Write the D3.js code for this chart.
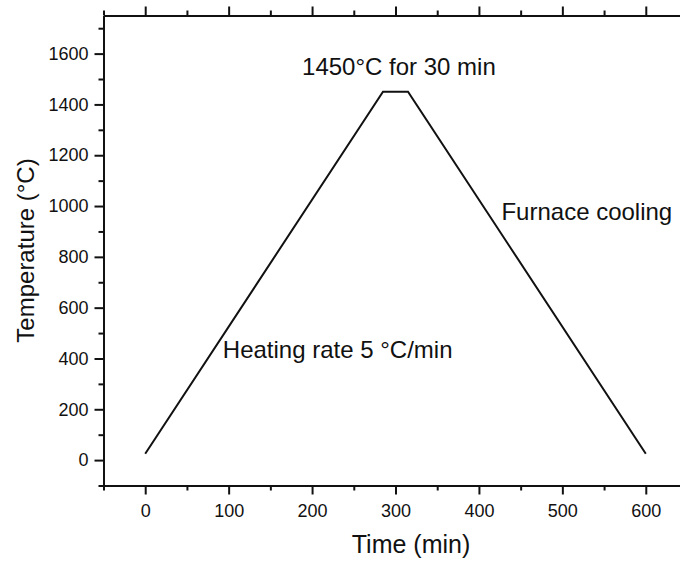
<!DOCTYPE html>
<html>
<head>
<meta charset="utf-8">
<script src="https://cdn.jsdelivr.net/npm/d3@7"></script>
<style>
  html, body { margin: 0; padding: 0; background: #ffffff; }
  svg { display: block; }
  text { font-family: "Liberation Sans", Arial, sans-serif; fill: #111; }
</style>
</head>
<body>
<script>
// Sintering schedule: time (min) vs. temperature (°C)
const timeMin = [0, 285, 315, 600];
const tempC = [25, 1450, 1450, 25];

const xMajorTicks = [0, 100, 200, 300, 400, 500, 600];
const xMinorTicks = [-50, 50, 150, 250, 350, 450, 550, 650];
const yMajorTicks = [0, 200, 400, 600, 800, 1000, 1200, 1400, 1600];
const yMinorTicks = [-100, 100, 300, 500, 700, 900, 1100, 1300, 1500, 1700];

const annotations = [
  { text: "1450°C for 30 min", t: 188, v: 1515 },
  { text: "Furnace cooling", t: 427, v: 945 },
  { text: "Heating rate 5 °C/min", t: 93, v: 400 }
];

const W = 680, H = 561;
const m = { left: 103.5, right: 687.5, top: 15.5, bottom: 485.5 };

const svg = d3.select("body").append("svg").attr("width", W).attr("height", H);

const x = d3.scaleLinear().domain([-50, 650]).range([m.left, m.right]);
const y = d3.scaleLinear().domain([-100, 1750]).range([m.bottom, m.top]);
const fmt = d3.format("d");

function styleAxis(g) {
  g.select(".domain").attr("stroke", "#111").attr("stroke-width", 2);
  g.selectAll(".tick line").attr("stroke", "#111").attr("stroke-width", 2);
}

// bottom axis: major with labels, minor without
const gxMinor = svg.append("g").attr("transform", `translate(0,${m.bottom})`)
  .call(d3.axisBottom(x).tickValues(xMinorTicks).tickSize(5).tickFormat("").tickSizeOuter(0));
styleAxis(gxMinor);
const gx = svg.append("g").attr("transform", `translate(0,${m.bottom})`)
  .call(d3.axisBottom(x).tickValues(xMajorTicks).tickFormat(fmt).tickSize(9).tickPadding(10).tickSizeOuter(0));
styleAxis(gx);
gx.selectAll(".tick text").attr("font-size", 18).attr("fill", "#111")
  .attr("font-family", "'Liberation Sans', Arial, sans-serif");

// top axis: ticks only, pointing outward
const gtMinor = svg.append("g").attr("transform", `translate(0,${m.top})`)
  .call(d3.axisTop(x).tickValues(xMinorTicks).tickSize(5).tickFormat("").tickSizeOuter(0));
styleAxis(gtMinor);
const gt = svg.append("g").attr("transform", `translate(0,${m.top})`)
  .call(d3.axisTop(x).tickValues(xMajorTicks).tickSize(9).tickFormat("").tickSizeOuter(0));
styleAxis(gt);

// left axis
const gyMinor = svg.append("g").attr("transform", `translate(${m.left},0)`)
  .call(d3.axisLeft(y).tickValues(yMinorTicks).tickSize(5).tickFormat("").tickSizeOuter(0));
styleAxis(gyMinor);
const gy = svg.append("g").attr("transform", `translate(${m.left},0)`)
  .call(d3.axisLeft(y).tickValues(yMajorTicks).tickFormat(fmt).tickSize(9).tickPadding(6).tickSizeOuter(0));
styleAxis(gy);
gy.selectAll(".tick text").attr("font-size", 18).attr("fill", "#111")
  .attr("font-family", "'Liberation Sans', Arial, sans-serif");

// temperature profile
const line = d3.line().x((d, i) => x(timeMin[i])).y(d => y(d));
svg.append("path")
  .datum(tempC)
  .attr("d", line)
  .attr("fill", "none")
  .attr("stroke", "#111")
  .attr("stroke-width", 2)
  .attr("stroke-linejoin", "miter");

// annotations
svg.selectAll("text.note")
  .data(annotations)
  .enter().append("text")
  .attr("class", "note")
  .attr("x", d => x(d.t))
  .attr("y", d => y(d.v))
  .attr("font-size", 24)
  .text(d => d.text);

// axis titles
svg.append("text")
  .attr("x", 411)
  .attr("y", 553)
  .attr("text-anchor", "middle")
  .attr("font-size", 25)
  .text("Time (min)");

svg.append("text")
  .attr("transform", `translate(34,${(m.top + m.bottom) / 2}) rotate(-90)`)
  .attr("text-anchor", "middle")
  .attr("font-size", 24)
  .text("Temperature (°C)");
</script>
</body>
</html>
